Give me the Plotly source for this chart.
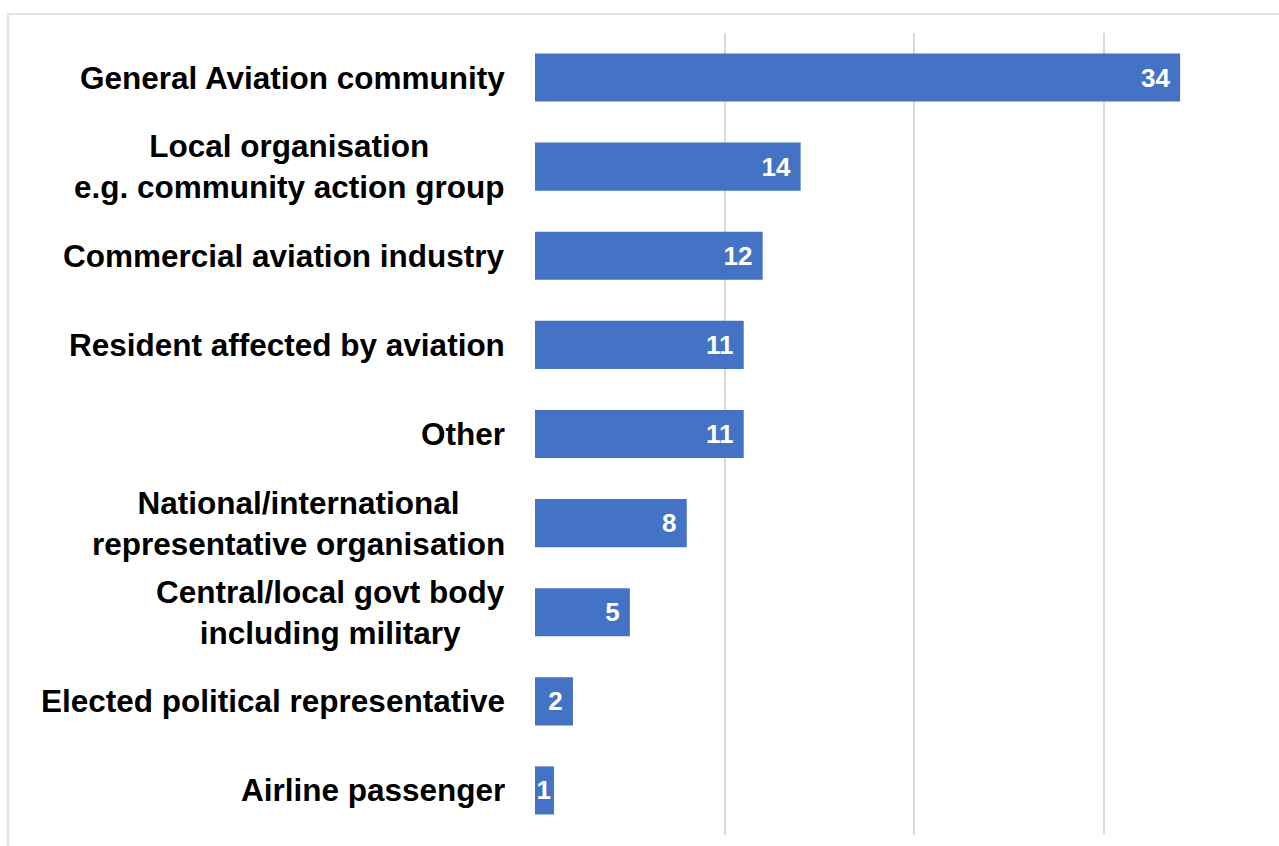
import plotly.graph_objects as go

# Respondent categories, listed top to bottom
categories = [
    "General Aviation community",
    "Local organisation<br>e.g. community action group",
    "Commercial aviation industry",
    "Resident affected by aviation",
    "Other",
    "National/international<br>representative organisation",
    "Central/local govt body<br>including military",
    "Elected political representative",
    "Airline passenger",
]
responses = [34, 14, 12, 11, 11, 8, 5, 2, 1]
grid_ticks = [0, 10, 20, 30]

W, H = 1279, 846
M_LEFT, M_RIGHT, M_TOP, M_BOTTOM = 535, 23, 33, 11
X_MAX = 38
FONT = "Liberation Sans, Arial, sans-serif"
BAR_BLUE = "#4472C4"
GRID = "#d9d9d9"

# Value labels sit a little in from the bar end; the tiny bar keeps its label centred
value_text = [f"{v}\u00a0" if v >= 2 else f"{v}" for v in responses]

fig = go.Figure(
    go.Bar(
        x=responses,
        y=categories,
        orientation="h",
        width=0.54,
        marker=dict(color=BAR_BLUE, line=dict(width=0)),
        text=value_text,
        texttemplate="%{text}",
        textposition="inside",
        insidetextanchor="end",
        textangle=0,
        constraintext="none",
        cliponaxis=False,
        textfont=dict(family=FONT, size=26, color="white", weight="bold"),
        hoverinfo="skip",
    )
)

# Category labels drawn as centred multi-line text to the left of the axis
for cat in categories:
    fig.add_annotation(
        x=0, xref="paper", y=cat, yref="y",
        text=cat, showarrow=False,
        xanchor="right", yanchor="middle", align="center",
        xshift=-28,
        font=dict(family=FONT, size=31.5, color="black", weight="bold"),
    )

plot_w = W - M_LEFT - M_RIGHT
plot_h = H - M_TOP - M_BOTTOM

# Light outer frame around the chart
fig.add_shape(
    type="rect", xref="paper", yref="paper", layer="below",
    x0=(8 - M_LEFT) / plot_w, x1=(W + 10 - M_LEFT) / plot_w,
    y0=-(20) / plot_h, y1=(H - M_BOTTOM - 14) / plot_h,
    line=dict(color=GRID, width=1.5), fillcolor="rgba(0,0,0,0)",
)

fig.update_layout(
    width=W, height=H,
    margin=dict(l=M_LEFT, r=M_RIGHT, t=M_TOP, b=M_BOTTOM, pad=0),
    paper_bgcolor="white", plot_bgcolor="white",
    showlegend=False,
    bargap=0.46,
    xaxis=dict(
        range=[0, X_MAX], tickmode="array", tickvals=grid_ticks,
        showticklabels=False, showgrid=True, gridcolor=GRID, gridwidth=1.5,
        zeroline=False, showline=False, fixedrange=True,
    ),
    yaxis=dict(
        categoryorder="array", categoryarray=categories, autorange="reversed",
        showticklabels=False, showgrid=False, zeroline=False, showline=False,
        fixedrange=True,
    ),
)

fig.write_html("out.html")
